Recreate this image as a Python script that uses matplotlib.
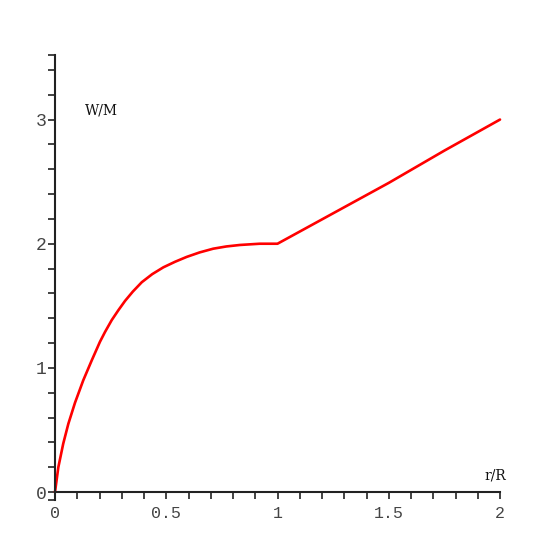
import matplotlib
matplotlib.use("Agg")
import matplotlib.pyplot as plt
from matplotlib.ticker import FixedLocator, NullFormatter

# data
r_vals = [0.0, 0.015, 0.037, 0.060, 0.090, 0.127, 0.165, 0.202, 0.225, 0.255,
          0.285, 0.315, 0.350, 0.390, 0.437, 0.487, 0.540, 0.592, 0.650, 0.711,
          0.770, 0.831, 0.920, 1.0,
          1.25, 1.5, 1.75, 2.0]
w_vals = [0.0, 0.20, 0.39, 0.55, 0.72, 0.90, 1.06, 1.21, 1.29, 1.385,
          1.465, 1.54, 1.615, 1.69, 1.755, 1.81, 1.855, 1.894, 1.93, 1.96,
          1.978, 1.99, 2.0, 2.0,
          2.245, 2.49, 2.75, 3.0]
x_major = [0, 0.5, 1, 1.5, 2]
x_labels = ["0", "0.5", "1", "1.5", "2"]
y_major = [0, 1, 2, 3]
y_labels = ["0", "1", "2", "3"]
x_minor = [i / 10 for i in range(21)]
y_minor = [-0.064] + [i / 5 for i in range(18)] + [3.52]

fig = plt.figure(figsize=(5.56, 5.56), dpi=100)
ax = fig.add_axes([55 / 556, (556 - 500) / 556, 445 / 556, 445 / 556])
ax.set_xlim(0, 2)
ax.set_ylim(-0.064, 3.52)

ax.plot(r_vals, w_vals, color="red", lw=1.9, solid_capstyle="round",
        solid_joinstyle="round", clip_on=False)

for s in ["top", "right"]:
    ax.spines[s].set_visible(False)
ax.spines["bottom"].set_position(("data", 0))
ax.spines["bottom"].set_bounds(0, 2)
ax.spines["left"].set_bounds(-0.064, 3.52)
for s in ["bottom", "left"]:
    ax.spines[s].set_linewidth(1.5)
    ax.spines[s].set_color("#222222")

ax.xaxis.set_major_locator(FixedLocator(x_major))
ax.set_xticklabels(x_labels)
ax.xaxis.set_minor_locator(FixedLocator(x_minor))
ax.yaxis.set_major_locator(FixedLocator(y_major))
ax.set_yticklabels(y_labels)
ax.yaxis.set_minor_locator(FixedLocator(y_minor))
ax.xaxis.set_minor_formatter(NullFormatter())
ax.yaxis.set_minor_formatter(NullFormatter())

ax.tick_params(which="both", direction="out", length=5, width=1.2, color="#222222")
ax.tick_params(axis="x", labelsize=12, pad=5, labelcolor="#444444")
ax.tick_params(axis="y", labelsize=13, pad=1, labelcolor="#444444")
for lab in ax.get_xticklabels() + ax.get_yticklabels():
    lab.set_family("Liberation Mono")

ax.text(0.207, 3.076, "W/M", family="DejaVu Serif", fontsize=10,
        ha="center", va="center", color="#111111")
ax.text(1.978, 0.13, "r/R", family="DejaVu Serif", fontsize=10,
        ha="center", va="center", color="#111111")

fig.savefig("out.png", dpi=100)
